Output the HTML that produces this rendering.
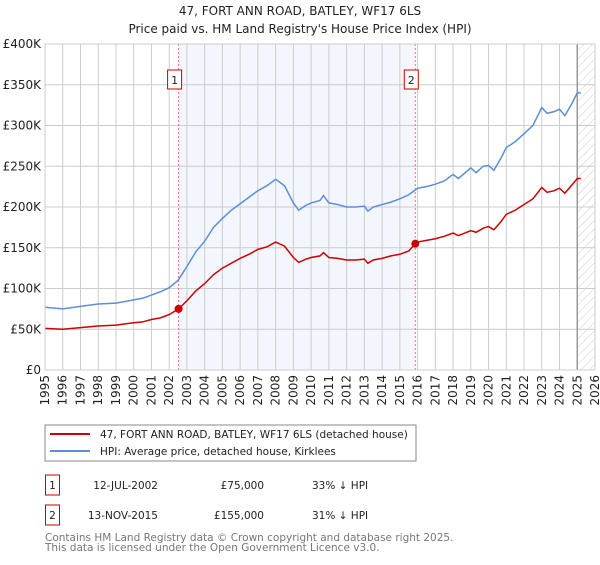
<!DOCTYPE html>
<html><head><meta charset="utf-8"><style>
body{margin:0;background:#fff;font-family:"Liberation Sans","DejaVu Sans",sans-serif}
svg text{font-family:"DejaVu Sans","Liberation Sans",sans-serif}
</style></head><body>
<svg width="600" height="560" xmlns="http://www.w3.org/2000/svg" id="chart">
<defs><pattern id="hatch" width="6" height="6" patternUnits="userSpaceOnUse" patternTransform="rotate(45)"><line x1="0" y1="0" x2="0" y2="6" stroke="#ccc" stroke-width="1"/></pattern></defs>
<text x="300" y="15" text-anchor="middle" font-size="12" fill="#222">47, FORT ANN ROAD, BATLEY, WF17 6LS</text>
<text x="300" y="33" text-anchor="middle" font-size="12" fill="#222">Price paid vs. HM Land Registry's House Price Index (HPI)</text>
<g id="plot"></g>
<rect x="45" y="425" width="371" height="36" fill="#fff" stroke="#888"/>
<line x1="50" y1="434" x2="90" y2="434" stroke="#cc0000" stroke-width="2"/>
<text x="100" y="438" font-size="10.5" fill="#222">47, FORT ANN ROAD, BATLEY, WF17 6LS (detached house)</text>
<line x1="50" y1="451" x2="90" y2="451" stroke="#5b8fd4" stroke-width="2"/>
<text x="100" y="455" font-size="10.5" fill="#222">HPI: Average price, detached house, Kirklees</text>
<g font-size="10.5" fill="#222">
<rect x="45.5" y="475" width="14" height="20" fill="none" stroke="#cc0000"/>
<text x="52.5" y="489" text-anchor="middle">1</text>
<text x="158" y="489" text-anchor="end">12-JUL-2002</text>
<text x="264" y="489" text-anchor="end">£75,000</text>
<text x="312" y="489">33% ↓ HPI</text>
<rect x="45.5" y="505" width="14" height="20" fill="none" stroke="#cc0000"/>
<text x="52.5" y="519" text-anchor="middle">2</text>
<text x="158" y="519" text-anchor="end">13-NOV-2015</text>
<text x="264" y="519" text-anchor="end">£155,000</text>
<text x="312" y="519">31% ↓ HPI</text>
</g>
<text x="45" y="541" font-size="10.5" fill="#777">Contains HM Land Registry data © Crown copyright and database right 2025.</text>
<text x="45" y="551" font-size="10.5" fill="#777">This data is licensed under the Open Government Licence v3.0.</text>
</svg>
<script>
const hpiT=[1995,1996,1997,1998,1999,2000,2000.5,2001,2001.5,2002,2002.5,2003,2003.5,2004,2004.5,2005,2005.5,2006,2006.5,2007,2007.5,2008,2008.5,2009,2009.3,2009.7,2010,2010.5,2010.7,2011,2011.5,2012,2012.5,2013,2013.2,2013.5,2014,2014.5,2015,2015.5,2016,2016.5,2017,2017.5,2018,2018.3,2019,2019.3,2019.7,2020,2020.3,2020.7,2021,2021.5,2022,2022.5,2023,2023.3,2023.7,2024,2024.3,2024.7,2025,2025.2];
const hpiV=[77,75,78,81,82,86,88,92,96,101,110,127,145,158,175,186,196,204,212,220,226,234,226,205,196,202,205,208,214,205,203,200,200,201,195,200,203,206,210,215,223,225,228,232,240,235,248,242,250,251,245,260,273,280,290,300,322,315,317,320,312,327,340,340];
const redT=[1995,1996,1997,1998,1999,2000,2000.5,2001,2001.5,2002,2002.53,2003,2003.5,2004,2004.5,2005,2005.5,2006,2006.5,2007,2007.5,2008,2008.5,2009,2009.3,2009.7,2010,2010.5,2010.7,2011,2011.5,2012,2012.5,2013,2013.2,2013.5,2014,2014.5,2015,2015.5,2015.87,2016,2016.5,2017,2017.5,2018,2018.3,2019,2019.3,2019.7,2020,2020.3,2020.7,2021,2021.5,2022,2022.5,2023,2023.3,2023.7,2024,2024.3,2024.7,2025,2025.2];
const redV=[51,50,52,54,55,58,59,62,64,68,75,85,97,106,117,125,131,137,142,148,151,157,152,138,132,136,138,140,144,138,137,135,135,136,131,135,137,140,142,146,155,157,159,161,164,168,165,171,169,174,176,172,182,191,196,203,210,224,218,220,223,217,227,235,235];
const saleT=[2002.53,2015.87];
const saleV=[75,155];
const saleLabels=["1","2"];
const yTicks=[0,50,100,150,200,250,300,350,400];
const yLabels=["£0","£50K","£100K","£150K","£200K","£250K","£300K","£350K","£400K"];
const xYears=[1995,1996,1997,1998,1999,2000,2001,2002,2003,2004,2005,2006,2007,2008,2009,2010,2011,2012,2013,2014,2015,2016,2017,2018,2019,2020,2021,2022,2023,2024,2025,2026];
const dataEnd=2025;

const X0=45,X1=595,Y0=370,Y1=44;
const xs=t=>X0+(t-1995)/(2026-1995)*(X1-X0);
const ys=v=>Y0-v/400*(Y0-Y1);
const NS="http://www.w3.org/2000/svg";
const g=document.getElementById('plot');
function mk(tag,a){const e=document.createElementNS(NS,tag);for(const k in a)e.setAttribute(k,a[k]);g.appendChild(e);return e;}
let e;
e=mk('rect',{x:xs(saleT[0]),y:Y1,width:xs(saleT[1])-xs(saleT[0]),height:Y0-Y1,fill:'#f3f6fd'});


e=mk('rect',{x:xs(dataEnd),y:Y1,width:X1-xs(dataEnd),height:Y0-Y1,fill:'url(#hatch)'});


xYears.forEach(y=>{
  e=mk('line',{x1:xs(y),x2:xs(y),y1:Y1,y2:Y0,stroke:'#ccc','stroke-width':1});
  
  
  e=mk('text',{x:0,y:0,transform:`translate(${xs(y)+4},${Y0+5}) rotate(-90)`,'text-anchor':'end','font-size':12,fill:'#222'});
  e.textContent=y;
  
  
});
yTicks.forEach((v,i)=>{
  e=mk('line',{x1:X0,x2:X1,y1:ys(v),y2:ys(v),stroke:'#ccc','stroke-width':1});
  
  
  e=mk('text',{x:X0-4,y:ys(v)+4,'text-anchor':'end','font-size':12,fill:'#222'});
  e.textContent=yLabels[i];
  
  
});
e=mk('line',{x1:xs(dataEnd),x2:xs(dataEnd),y1:Y1,y2:Y0,stroke:'#999','stroke-width':1.5});


saleT.forEach((t,i)=>{
  e=mk('line',{x1:xs(t),x2:xs(t),y1:Y1,y2:Y0,stroke:'#f07070','stroke-width':1,'stroke-dasharray':'2,2'});
  
  
});
e=mk('polyline',{points:hpiT.map((t,i)=>xs(t)+','+ys(hpiV[i])).join(' '),fill:'none',stroke:'#5b8fd4','stroke-width':1.5});


e=mk('polyline',{points:redT.map((t,i)=>xs(t)+','+ys(redV[i])).join(' '),fill:'none',stroke:'#cc0000','stroke-width':1.5});


saleT.forEach((t,i)=>{
  e=mk('circle',{cx:xs(t),cy:ys(saleV[i]),r:4,fill:'#cc0000'});
  
  
  e=mk('rect',{x:xs(t)-11,y:70,width:14,height:19,fill:'#fff',stroke:'#cc0000'});
  
  
  e=mk('text',{x:xs(t)-4,y:84,'text-anchor':'middle','font-size':11,fill:'#222'});
  e.textContent=saleLabels[i];
  
  
});
e=mk('rect',{x:X0,y:Y1,width:X1-X0,height:Y0-Y1,fill:'none',stroke:'#ccc'});


</script>
</body></html>
